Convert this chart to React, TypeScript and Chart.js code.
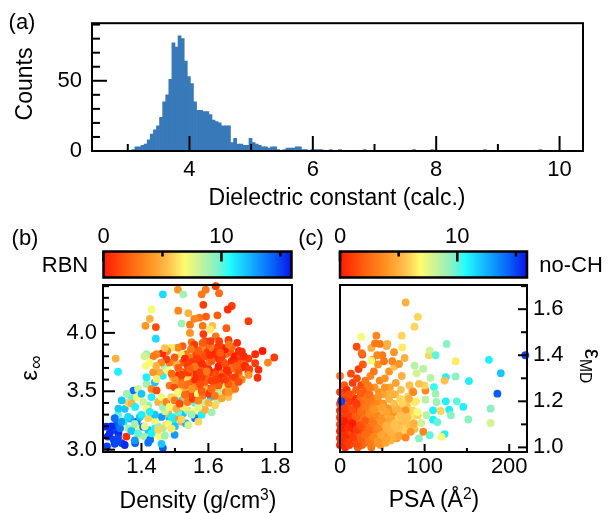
import React, { useEffect, useRef } from 'react';
import { Chart, registerables } from 'chart.js';
Chart.register(...registerables);

const W = 609;
const H = 513;
const FONT = '"Liberation Sans", Arial, Helvetica, sans-serif';
const BAR_COLOR = '#3879b9';

// ---------- (a) histogram ----------
const histBinStart = 3.065;
const histBinWidth = 0.05;
const histCounts = [
  1, 3, 3, 4, 5, 8, 12, 15, 18, 24, 35, 40, 51, 77, 74, 82, 80, 64, 53, 48,
  35, 29, 29, 28, 28, 26, 22, 21, 20, 18, 18, 18, 6, 9, 5, 5, 4, 4, 9, 6,
  5, 4, 3, 3, 2, 3, 3, 1, 0, 1, 2, 2, 2, 3, 3, 1, 1, 0, 1, 1,
  1, 1, 0, 0, 1,
];
const histTailCenters = [6.44, 6.84, 7.64, 7.94, 8.79, 9.69];
const histTailCounts = [1, 1, 1, 1, 1, 1];

// ---------- (b) density vs eps_inf, colour = RBN ----------
const panelB: [number, number, number][] = [
  // lower-left, mixed / blue
  [1.295, 3.197, 15.5], [1.299, 3.112, 15.5], [1.297, 3.027, 15], [1.317, 3.17, 15], [1.327, 3.225, 14.5],
  [1.331, 3.14, 15.5], [1.317, 3.085, 15], [1.341, 3.056, 15], [1.336, 3.183, 14], [1.347, 3.24, 11],
  [1.376, 3.506, 14], [1.366, 3.267, 12.5], [1.386, 3.24, 14], [1.395, 3.28, 12], [1.381, 3.056, 14.5],
  [1.361, 3.183, 9], [1.386, 3.183, 7], [1.405, 3.197, 14], [1.391, 3.12, 6.5], [1.41, 3.112, 9],
  [1.433, 3.127, 7], [1.42, 3.17, 12], [1.44, 3.183, 11], [1.426, 3.085, 14], [1.464, 3.014, 14.5],
  [1.45, 3.197, 9], [1.455, 3.112, 7], [1.464, 3.183, 9], [1.474, 3.211, 6], [1.499, 3.127, 13],
  [1.484, 3.267, 12], [1.48, 3.31, 5], [1.494, 3.24, 11], [1.509, 3.28, 4], [1.524, 3.31, 12],
  [1.519, 3.24, 5], [1.533, 3.225, 12.5], [1.538, 3.338, 9], [1.553, 3.324, 7], [1.568, 3.28, 6.5],
  [1.578, 3.35, 5.5], [1.587, 3.41, 8.5], [1.607, 3.45, 12], [1.627, 3.422, 8.5], [1.666, 3.507, 5],
  [1.66, 3.45, 5.5], [1.355, 3.112, 0.5],
  [1.46, 3.28, 13], [1.48, 3.22, 7], [1.50, 3.20, 12], [1.52, 3.26, 6], [1.54, 3.21, 8],
  [1.56, 3.27, 14], [1.57, 3.24, 6], [1.58, 3.30, 11], [1.59, 3.34, 5], [1.61, 3.32, 9],
  [1.62, 3.38, 6], [1.55, 3.30, 9], [1.53, 3.36, 6.5], [1.51, 3.32, 10], [1.49, 3.28, 11],
  [1.47, 3.33, 8], [1.44, 3.25, 7], [1.42, 3.27, 6], [1.40, 3.30, 11], [1.38, 3.22, 9],
  [1.36, 3.28, 11.5], [1.35, 3.35, 12], [1.34, 3.24, 13], [1.33, 3.30, 10], [1.32, 3.27, 14],
  [1.37, 3.16, 12], [1.39, 3.14, 10], [1.41, 3.20, 7.5], [1.43, 3.14, 11], [1.45, 3.17, 6],
  [1.47, 3.12, 9], [1.49, 3.18, 6.5], [1.46, 3.05, 12], [1.42, 3.06, 14], [1.38, 3.08, 13],
  [1.35, 3.04, 15.5], [1.33, 3.10, 15], [1.31, 3.20, 15.5], [1.305, 3.14, 15.5], [1.32, 3.05, 15],
  [1.37, 3.44, 10], [1.39, 3.52, 8], [1.36, 3.40, 6], [1.43, 3.45, 11], [1.42, 3.38, 9.5],
  [1.52, 3.42, 11.5], [1.50, 3.45, 8.5], [1.56, 3.40, 10], [1.44, 3.30, 12], [1.57, 3.36, 7.5],
  // middle-left
  [1.331, 3.352, 12], [1.341, 3.422, 12], [1.356, 3.478, 9], [1.371, 3.394, 5], [1.386, 3.45, 7],
  [1.381, 3.366, 11], [1.40, 3.478, 12], [1.405, 3.408, 8], [1.415, 3.352, 7], [1.425, 3.324, 11],
  [1.415, 3.563, 9], [1.43, 3.52, 3.5], [1.44, 3.577, 12], [1.445, 3.507, 1.5], [1.45, 3.408, 5],
  [1.46, 3.45, 7], [1.464, 3.366, 9], [1.474, 3.408, 3.5], [1.489, 3.45, 6], [1.484, 3.366, 7],
  [1.499, 3.422, 3], [1.504, 3.352, 5], [1.514, 3.394, 1.5], [1.528, 3.45, 5], [1.538, 3.408, 3],
  [1.553, 3.436, 1], [1.464, 3.633, 11], [1.469, 3.718, 9], [1.454, 3.662, 5], [1.479, 3.676, 7],
  [1.494, 3.619, 5], [1.435, 3.662, 4], [1.415, 3.62, 11], [1.445, 3.605, 6.5], [1.484, 3.549, 3],
  [1.499, 3.535, 1.5], [1.514, 3.577, 3.5], [1.524, 3.507, 5], [1.533, 3.549, 3], [1.548, 3.493, 0.5],
  [1.509, 3.493, 7],
  // main cluster
  [1.523, 3.746, 2], [1.538, 3.718, 1], [1.548, 3.789, 3], [1.563, 3.831, 1.5], [1.573, 3.76, 0.5],
  [1.583, 3.817, 2], [1.597, 3.859, 1], [1.612, 3.873, 3], [1.627, 3.845, 0.5], [1.642, 3.873, 1.5],
  [1.652, 3.817, 3], [1.666, 3.831, 2], [1.676, 3.774, 1], [1.691, 3.746, 0.5], [1.681, 3.69, 3],
  [1.661, 3.718, 0.5], [1.647, 3.746, 2], [1.632, 3.774, 1], [1.617, 3.789, 0.5], [1.602, 3.746, 3],
  [1.587, 3.704, 1], [1.573, 3.69, 2], [1.558, 3.662, 0.5], [1.543, 3.648, 3], [1.528, 3.662, 1.5],
  [1.514, 3.676, 3.5], [1.504, 3.732, 5], [1.509, 3.633, 0.5], [1.523, 3.591, 2], [1.538, 3.605, 6],
  [1.553, 3.577, 3], [1.568, 3.619, 0.5], [1.583, 3.605, 1], [1.597, 3.633, 2], [1.612, 3.662, 0.5],
  [1.627, 3.676, 1], [1.642, 3.662, 3], [1.657, 3.633, 5], [1.671, 3.605, 1], [1.691, 3.648, 3],
  [1.661, 3.577, 2], [1.647, 3.549, 6.5], [1.632, 3.577, 0.5], [1.617, 3.549, 3], [1.602, 3.521, 1],
  [1.587, 3.535, 5], [1.573, 3.521, 2], [1.558, 3.535, 3.5], [1.543, 3.478, 1.5], [1.568, 3.478, 7],
  [1.583, 3.464, 3], [1.602, 3.478, 1], [1.622, 3.507, 6], [1.637, 3.493, 8.5], [1.652, 3.493, 3],
  [1.676, 3.563, 3.5], [1.701, 3.704, 0.5], [1.632, 3.90, 1], [1.583, 3.887, 3.5], [1.553, 3.887, 1],
  [1.533, 3.817, 3], [1.518, 3.817, 6.5], [1.499, 3.789, 2], [1.484, 3.746, 3], [1.474, 3.774, 1],
  [1.459, 3.746, 3.5], [1.444, 3.718, 5], [1.661, 3.929, 11],
  [1.51, 3.70, 2], [1.52, 3.64, 1], [1.53, 3.78, 0.5], [1.54, 3.56, 2.5], [1.55, 3.75, 1],
  [1.56, 3.60, 0.5], [1.56, 3.71, 3], [1.57, 3.85, 2], [1.575, 3.66, 1], [1.58, 3.74, 0.5],
  [1.59, 3.58, 2], [1.59, 3.80, 1.5], [1.60, 3.69, 0.5], [1.60, 3.90, 2.5], [1.61, 3.59, 1],
  [1.61, 3.76, 2], [1.62, 3.82, 0.5], [1.62, 3.64, 1.5], [1.63, 3.71, 0], [1.63, 3.55, 2],
  [1.64, 3.80, 1], [1.64, 3.62, 0.5], [1.65, 3.73, 1.5], [1.65, 3.86, 0], [1.66, 3.66, 1],
  [1.66, 3.56, 2], [1.67, 3.76, 0.5], [1.67, 3.70, 2.5], [1.68, 3.62, 1], [1.68, 3.80, 0],
  [1.69, 3.68, 1.5], [1.70, 3.76, 2], [1.70, 3.60, 3.5], [1.71, 3.72, 0.5], [1.72, 3.78, 1],
  [1.66, 3.49, 4], [1.62, 3.46, 3], [1.58, 3.50, 2], [1.55, 3.52, 4], [1.53, 3.47, 2.5],
  [1.57, 3.42, 3.5], [1.60, 3.40, 5], [1.64, 3.44, 4.5], [1.68, 3.52, 3], [1.50, 3.60, 4],
  [1.49, 3.65, 2.5], [1.52, 3.56, 3], [1.54, 3.66, 1], [1.58, 3.62, 1], [1.61, 3.52, 2.5],
  [1.65, 3.60, 1], [1.69, 3.58, 1.5], [1.63, 3.88, 1], [1.59, 3.93, 1.5], [1.55, 3.92, 3],
  [1.67, 3.88, 2.5], [1.72, 3.66, 0.5], [1.74, 3.74, 1], [1.70, 3.84, 0.5], [1.66, 3.94, 1],
  [1.565, 3.78, 1], [1.595, 3.67, 3], [1.625, 3.60, 1], [1.655, 3.68, 0.5], [1.685, 3.72, 2],
  [1.605, 3.81, 0.5], [1.545, 3.69, 2], [1.575, 3.56, 1.5], [1.635, 3.83, 2], [1.695, 3.80, 1],
  // upper and right
  [1.622, 3.97, 3], [1.632, 3.93, 1], [1.661, 3.90, 3], [1.686, 3.915, 0.5], [1.607, 3.93, 1],
  [1.583, 3.915, 2], [1.558, 3.90, 1], [1.548, 3.86, 3], [1.523, 3.887, 2], [1.509, 3.873, 3.5],
  [1.489, 3.873, 6.5], [1.477, 3.845, 3.5], [1.462, 3.825, 0.5], [1.445, 3.817, 3.5], [1.435, 3.80, 3],
  [1.415, 3.817, 9], [1.409, 3.80, 8], [1.425, 3.746, 7], [1.323, 3.78, 5], [1.33, 3.667, 11],
  [1.413, 3.718, 7], [1.691, 3.845, 0.5], [1.706, 3.80, 0.5], [1.74, 3.817, 0.5], [1.762, 3.845, 0],
  [1.797, 3.789, 1], [1.778, 3.746, 3.5], [1.722, 3.69, 1], [1.75, 3.684, 0.5], [1.72, 3.64, 4],
  [1.464, 4.33, 11.5], [1.509, 4.37, 4], [1.525, 4.33, 9], [1.592, 4.37, 3], [1.622, 4.40, 1],
  [1.632, 4.34, 2.5], [1.58, 4.33, 3], [1.585, 4.24, 1], [1.67, 4.23, 1], [1.658, 4.20, 0.5],
  [1.43, 4.20, 7], [1.51, 4.19, 3.5], [1.54, 4.17, 5], [1.573, 4.13, 3], [1.593, 4.14, 2],
  [1.627, 4.15, 2], [1.425, 4.12, 5], [1.412, 4.06, 4], [1.443, 4.05, 1.5], [1.52, 4.08, 9],
  [1.545, 4.07, 3], [1.558, 4.12, 3.5], [1.583, 4.06, 3], [1.612, 4.06, 5.5], [1.654, 4.04, 2],
  [1.72, 4.10, 1], [1.545, 4.00, 4], [1.585, 3.99, 1], [1.605, 4.03, 6.5], [1.443, 3.95, 11.5],
  [1.47, 3.87, 5.5], [1.747, 3.616, 0.5],
];

// ---------- (c) PSA vs eps_MD, colour = no-CH ----------
const panelC: [number, number, number][] = [
  // dense region
  [0, 1.01, 0], [0, 1.04, 0.5], [0, 1.07, 0], [0, 1.10, 1], [0, 1.13, 0.5], [0, 1.16, 0], [0, 1.24, 1], [0, 1.31, 3], [0, 1.19, 1.5],
  [3, 1.02, 0], [3, 1.05, 1], [3, 1.08, 0], [3, 1.11, 0.5], [3, 1.14, 1], [4, 1.22, 1.5], [5, 1.27, 2],
  [6, 1.0, 0.5], [7, 1.03, 0], [7, 1.06, 1], [7, 1.09, 0], [8, 1.12, 1], [8, 1.15, 0], [9, 1.18, 1.5], [9, 1.21, 1], [8, 1.25, 0.5],
  [11, 1.01, 1], [11, 1.04, 0], [12, 1.07, 1.5], [12, 1.10, 0.5], [13, 1.13, 1], [13, 1.16, 2], [14, 1.2, 1], [14, 1.23, 2], [15, 1.28, 1], [13, 1.32, 1.5],
  [16, 1.02, 1.5], [16, 1.05, 1], [17, 1.08, 0], [17, 1.11, 1.5], [18, 1.14, 2], [18, 1.17, 1], [19, 1.25, 2], [20, 1.3, 1.5], [19, 1.21, 0.5],
  [21, 1.0, 2], [21, 1.03, 1], [22, 1.06, 2], [22, 1.09, 1.5], [23, 1.12, 2.5], [23, 1.15, 1], [24, 1.18, 2], [24, 1.21, 2.5], [25, 1.27, 1.5], [22, 1.34, 1],
  [26, 1.01, 2], [26, 1.04, 2.5], [27, 1.07, 1.5], [27, 1.1, 2.5], [28, 1.13, 3], [28, 1.16, 2], [29, 1.19, 2.5], [29, 1.22, 3], [30, 1.25, 2], [30, 1.29, 3], [27, 1.36, 2],
  [31, 1.02, 2.5], [32, 1.05, 3], [32, 1.08, 2], [33, 1.11, 3], [33, 1.14, 2.5], [34, 1.17, 3.5], [34, 1.2, 3], [35, 1.23, 2.5], [36, 1.31, 3.5], [33, 1.27, 3],
  [37, 1.0, 3], [37, 1.03, 3.5], [38, 1.06, 2.5], [38, 1.09, 3.5], [39, 1.12, 3], [39, 1.15, 4], [40, 1.18, 3.5], [40, 1.21, 3], [41, 1.26, 4], [40, 1.33, 3], [38, 1.38, 3.5],
  [42, 1.02, 3.5], [43, 1.05, 4], [43, 1.08, 3], [44, 1.11, 4], [44, 1.14, 3.5], [45, 1.17, 4.5], [45, 1.20, 3.5], [46, 1.24, 4], [47, 1.29, 3.5], [45, 1.36, 4],
  [48, 1.01, 4], [48, 1.04, 4.5], [49, 1.07, 3.5], [49, 1.1, 4.5], [50, 1.13, 4], [51, 1.16, 5], [51, 1.19, 4], [52, 1.23, 4.5], [53, 1.3, 4], [50, 1.4, 3],
  [54, 1.02, 4.5], [55, 1.05, 4], [55, 1.08, 5], [56, 1.11, 4.5], [57, 1.14, 5], [57, 1.17, 4], [58, 1.21, 5], [59, 1.26, 4.5], [58, 1.33, 4], [55, 1.44, 5],
  [60, 1.03, 5], [61, 1.06, 4.5], [62, 1.09, 5.5], [62, 1.12, 5], [63, 1.15, 4], [64, 1.19, 5.5], [65, 1.23, 5], [66, 1.28, 4.5], [64, 1.35, 5.5],
  [67, 1.04, 4], [68, 1.07, 5.5], [69, 1.1, 5], [70, 1.13, 6], [71, 1.17, 5], [71, 1.21, 6], [72, 1.25, 5.5], [73, 1.31, 5],
  [75, 1.05, 5], [76, 1.08, 6], [77, 1.11, 5.5], [78, 1.14, 6.5], [79, 1.18, 5.5], [80, 1.22, 6], [82, 1.27, 5.5],
  [84, 1.09, 6], [85, 1.13, 6.5], [86, 1.16, 6], [88, 1.08, 5.5], [90, 1.2, 6.5], [92, 1.14, 6],
  [1.5, 1.025, 0.5], [1.5, 1.085, 0], [1.5, 1.145, 1], [1.5, 1.205, 1], [5, 1.055, 0.5], [5, 1.115, 0], [5, 1.175, 1],
  [9.5, 1.025, 1], [9.5, 1.085, 0.5], [9.5, 1.145, 1], [10, 1.23, 1.5], [14.5, 1.045, 1], [14.5, 1.105, 0], [14.5, 1.165, 1.5],
  [19.5, 1.015, 1.5], [19.5, 1.075, 1], [19.5, 1.135, 2], [19.5, 1.19, 1], [24.5, 1.035, 2], [24.5, 1.095, 1.5], [24.5, 1.155, 2.5],
  [24.5, 1.235, 2], [29.5, 1.055, 2.5], [29.5, 1.115, 2], [29.5, 1.175, 3], [34.5, 1.025, 3], [34.5, 1.085, 2.5], [34.5, 1.145, 3.5],
  [35, 1.26, 3], [39.5, 1.045, 3.5], [39.5, 1.105, 3], [40, 1.165, 4], [44.5, 1.025, 4], [44.5, 1.085, 3.5], [45, 1.22, 4],
  [49.5, 1.055, 4.5], [49.5, 1.115, 4], [50, 1.175, 4.5], [53, 1.26, 4], [54.5, 1.035, 4.5], [55, 1.095, 5], [55, 1.155, 4.5],
  [59.5, 1.065, 5], [60, 1.125, 4.5], [60, 1.235, 5], [64.5, 1.045, 5], [65, 1.105, 5.5], [66, 1.165, 5], [70, 1.085, 5.5],
  [70, 1.05, 4.5], [73, 1.13, 5.5], [74, 1.19, 6], [78, 1.07, 6], [81, 1.1, 5.5], [82, 1.16, 6],
  // sparse points
  [77.6, 1.629, 5], [92, 1.567, 6], [88, 1.524, 6], [25.2, 1.48, 7], [43, 1.485, 3.5], [19.7, 1.437, 1.5],
  [37, 1.432, 5], [47.2, 1.449, 3], [56, 1.449, 5], [73, 1.485, 6], [73.6, 1.434, 6.5], [63.8, 1.413, 4],
  [26.4, 1.403, 1.5], [37, 1.377, 7], [44, 1.40, 3.5], [52, 1.374, 3], [61.8, 1.374, 3.5], [69.7, 1.362, 4],
  [76.4, 1.388, 5], [105, 1.40, 6], [106, 1.42, 8], [113, 1.40, 10], [126, 1.449, 9.5], [136.6, 1.374, 6.5],
  [88, 1.355, 8.5], [98.4, 1.341, 8.5], [90.5, 1.322, 8], [107, 1.302, 8.5], [125, 1.305, 11], [136.6, 1.308, 9.5],
  [123.6, 1.29, 5.5], [152.4, 1.288, 11], [176, 1.38, 11], [190, 1.322, 12], [186, 1.233, 14.5], [219, 1.40, 15],
  [178, 1.168, 9.5], [178, 1.106, 8], [151.6, 1.121, 9.5], [145.7, 1.176, 11], [138, 1.20, 10], [125, 1.20, 11],
  [129, 1.164, 11], [131, 1.14, 9.5], [114, 1.197, 9], [111, 1.262, 10.5], [113, 1.233, 9], [101, 1.247, 3.5],
  [101, 1.207, 8.5], [110, 1.161, 11], [119, 1.158, 6], [110, 1.12, 11], [115, 1.11, 10], [123.6, 1.058, 11],
  [120, 1.046, 7], [93.3, 1.039, 9.5], [106, 1.053, 10], [102, 1.14, 8.5], [96, 1.106, 8], [91.3, 1.154, 7],
  [100, 1.269, 6], [93.3, 1.276, 5.5], [85.4, 1.245, 5], [87.4, 1.197, 6.5], [81.5, 1.211, 5], [86.6, 1.24, 3.5],
  [77.6, 1.161, 4], [79.5, 1.132, 5.5], [87.4, 1.104, 5], [77.6, 1.043, 3.5], [83.5, 1.068, 4], [98.4, 1.068, 3.5],
  [71.7, 1.14, 5.5], [25.6, 1.409, 2.5], [41.4, 1.452, 3], [1.6, 1.20, 15],
];

// ---------- colour bar ----------
const colorbarMax = 15.94;
const cmapStops: [number, string][] = [
  [0.0, '#ff1a00'],
  [0.12, '#ff5a0e'],
  [0.25, '#ff9422'],
  [0.35, '#ffc24f'],
  [0.43, '#fffb6e'],
  [0.52, '#c4f29c'],
  [0.6, '#86f1c4'],
  [0.67, '#22fdfd'],
  [0.8, '#10a6ff'],
  [0.9, '#0863f8'],
  [1.0, '#0a14ec'],
];

function hexToRgb(h: string) {
  const n = parseInt(h.slice(1), 16);
  return [(n >> 16) & 255, (n >> 8) & 255, n & 255];
}
function cmap(v: number) {
  const t = Math.max(0, Math.min(1, v / colorbarMax));
  for (let i = 1; i < cmapStops.length; i++) {
    const [t1, c1] = cmapStops[i];
    if (t <= t1) {
      const [t0, c0] = cmapStops[i - 1];
      const f = (t - t0) / (t1 - t0);
      const a = hexToRgb(c0);
      const b = hexToRgb(c1);
      const r = a.map((x, k) => Math.round(x + (b[k] - x) * f));
      return `rgb(${r[0]},${r[1]},${r[2]})`;
    }
  }
  return cmapStops[cmapStops.length - 1][1];
}

type Side = 'left' | 'right' | 'top' | 'bottom';
type AxisTick = { id: string; side: Side; major: number; minor: number };

function framePlugin(axes: AxisTick[], lw = 2) {
  return {
    id: 'frame',
    afterDraw(chart: any) {
      const { ctx, chartArea: a } = chart;
      ctx.save();
      ctx.strokeStyle = '#000';
      ctx.lineWidth = lw;
      for (const ax of axes) {
        const s = chart.scales[ax.id];
        for (const t of s.ticks) {
          const p = s.getPixelForValue(t.value);
          const len = t.label ? ax.major : ax.minor;
          ctx.beginPath();
          if (ax.side === 'left') { ctx.moveTo(a.left, p); ctx.lineTo(a.left + len, p); }
          else if (ax.side === 'right') { ctx.moveTo(a.right, p); ctx.lineTo(a.right - len, p); }
          else if (ax.side === 'bottom') { ctx.moveTo(p, a.bottom); ctx.lineTo(p, a.bottom - len); }
          else { ctx.moveTo(p, a.top); ctx.lineTo(p, a.top + len); }
          ctx.stroke();
        }
      }
      ctx.strokeRect(a.left, a.top, a.right - a.left, a.bottom - a.top);
      ctx.restore();
    },
  };
}

const gradientPlugin = {
  id: 'gradientFill',
  beforeDatasetsDraw(chart: any) {
    const { ctx, chartArea: a } = chart;
    const g = ctx.createLinearGradient(a.left, 0, a.right, 0);
    for (const [t, c] of cmapStops) g.addColorStop(t, c);
    ctx.save();
    ctx.fillStyle = g;
    ctx.fillRect(a.left, a.top, a.right - a.left, a.bottom - a.top);
    ctx.restore();
  },
};

const LABEL_SPACE = 40;

function axis(pos: Side, min: number, max: number, step: number, fmt: (v: number) => string, pad: number, extra: any = {}) {
  return {
    type: 'linear',
    position: pos,
    min,
    max,
    grid: { display: false, drawTicks: false },
    border: { display: false },
    ticks: {
      stepSize: step,
      autoSkip: false,
      maxRotation: 0,
      minRotation: 0,
      includeBounds: false,
      padding: pad,
      color: '#000',
      font: { family: FONT, size: 22 },
      callback: (v: any) => fmt(Number(v)),
    },
    afterFit: (s: any) => {
      if (pos === 'left' || pos === 'right') s.width = LABEL_SPACE;
      else s.height = LABEL_SPACE;
    },
    ...extra,
  };
}

// chart area given in page pixels; sides listed in `axes` reserve LABEL_SPACE for tick labels
function area(left: number, top: number, right: number, bottom: number, axes: Side[]) {
  const r = (s: Side) => (axes.includes(s) ? LABEL_SPACE : 0);
  return {
    padding: {
      left: left - r('left'),
      top: top - r('top'),
      right: W - right - r('right'),
      bottom: H - bottom - r('bottom'),
    },
  };
}

const isMult = (v: number, m: number) => Math.abs(v / m - Math.round(v / m)) < 1e-6;

const baseOpts = {
  responsive: false,
  animation: false as const,
  events: [] as any[],
};
const noPlugins = { legend: { display: false }, tooltip: { enabled: false } };

function Label({ x, y, rot = 0, size = 22, children }: { x: number; y: number; rot?: number; size?: number; children: React.ReactNode }) {
  return (
    <div
      style={{
        position: 'absolute',
        left: x,
        top: y,
        transform: `translate(-50%, -50%) rotate(${rot}deg)`,
        fontFamily: FONT,
        fontSize: size,
        lineHeight: 1,
        whiteSpace: 'nowrap',
        color: '#000',
      }}
    >
      {children}
    </div>
  );
}

const sub = { fontSize: '0.68em', position: 'relative' as const, top: '0.32em' };
const subInf = { fontSize: '0.8em', position: 'relative' as const, top: '0.25em', marginLeft: '0.05em' };
const sup = { fontSize: '0.68em', position: 'relative' as const, top: '-0.5em' };

export default function App() {
  const refs = [useRef<HTMLCanvasElement>(null), useRef<HTMLCanvasElement>(null), useRef<HTMLCanvasElement>(null), useRef<HTMLCanvasElement>(null), useRef<HTMLCanvasElement>(null)];

  useEffect(() => {
    const charts: Chart[] = [];
    const histData = histCounts.map((c, i) => ({ x: histBinStart + (i + 0.5) * histBinWidth, y: c }));
    histTailCenters.forEach((x, i) => histData.push({ x, y: histTailCounts[i] }));

    // (a) histogram
    charts.push(new Chart(refs[0].current!, {
      type: 'bar',
      data: { datasets: [{ data: histData as any, backgroundColor: BAR_COLOR, borderWidth: 0, barPercentage: 1, categoryPercentage: 1 }] },
      options: {
        ...baseOpts,
        layout: area(92, 19, 583, 151, ['left', 'bottom']),
        plugins: noPlugins,
        scales: {
          x: axis('bottom', 2.42, 10.38, 1, (v) => (isMult(v, 2) ? String(Math.round(v)) : ''), 6, { offset: false }) as any,
          y: axis('left', 0, 91, 10, (v) => (isMult(v, 50) ? String(Math.round(v)) : ''), 10) as any,
        },
      },
      plugins: [framePlugin([
        { id: 'x', side: 'bottom', major: 15, minor: 7 },
        { id: 'y', side: 'left', major: 15, minor: 8 },
      ])],
    } as any));

    // (b) scatter
    charts.push(new Chart(refs[1].current!, {
      type: 'scatter',
      data: {
        datasets: [{
          data: panelB.map((p) => ({ x: p[0], y: p[1] })),
          pointBackgroundColor: panelB.map((p) => cmap(p[2])),
          pointBorderWidth: 0,
          pointRadius: 3.9,
          clip: false,
        }],
      },
      options: {
        ...baseOpts,
        layout: area(103, 285, 292, 452, ['left', 'bottom']),
        plugins: noPlugins,
        scales: {
          x: axis('bottom', 1.285, 1.85, 0.1, (v) => (isMult(v, 0.2) ? v.toFixed(1) : ''), 2) as any,
          y: axis('left', 2.98, 4.41, 0.1, (v) => (isMult(v, 0.5) ? v.toFixed(1) : ''), 6) as any,
        },
      },
      plugins: [framePlugin([
        { id: 'x', side: 'bottom', major: 9, minor: 4 },
        { id: 'y', side: 'left', major: 12, minor: 6 },
      ])],
    } as any));

    // (c) scatter
    charts.push(new Chart(refs[2].current!, {
      type: 'scatter',
      data: {
        datasets: [{
          data: panelC.map((p) => ({ x: p[0], y: p[1] })),
          pointBackgroundColor: panelC.map((p) => cmap(p[2])),
          pointBorderWidth: 0,
          pointRadius: 3.9,
          clip: false,
        }],
      },
      options: {
        ...baseOpts,
        layout: area(340, 285, 527, 452, ['right', 'bottom']),
        plugins: noPlugins,
        scales: {
          x: axis('bottom', 0, 221, 50, (v) => (isMult(v, 100) ? String(Math.round(v)) : ''), 2) as any,
          y: axis('right', 0.98, 1.705, 0.1, (v) => (isMult(v, 0.2) ? v.toFixed(1) : ''), 6) as any,
        },
      },
      plugins: [framePlugin([
        { id: 'x', side: 'bottom', major: 8, minor: 4 },
        { id: 'y', side: 'right', major: 9, minor: 6 },
      ])],
    } as any));

    // colour bars
    const cbArea = [
      [103.5, 251.5, 291.5, 277.5],
      [340, 251.5, 527, 277.5],
    ];
    cbArea.forEach((r, k) => {
      charts.push(new Chart(refs[3 + k].current!, {
        type: 'scatter',
        data: { datasets: [{ data: [] }] },
        options: {
          ...baseOpts,
          layout: area(r[0], r[1], r[2], r[3], ['top']),
          plugins: noPlugins,
          scales: {
            x: axis('top', 0, colorbarMax, 5, (v) => (isMult(v, 10) ? String(Math.round(v)) : ''), 1.3) as any,
            y: { display: false, min: 0, max: 1 },
          },
        },
        plugins: [gradientPlugin, framePlugin([{ id: 'x', side: 'top', major: 10, minor: 5 }], 2.5)],
      } as any));
    });

    return () => charts.forEach((c) => c.destroy());
  }, []);

  return (
    <div style={{ position: 'absolute', left: 0, top: 0, width: W, height: H, background: '#fff', overflow: 'hidden' }}>
      {refs.map((r, i) => (
        <canvas key={i} ref={r} width={W} height={H} style={{ position: 'absolute', left: 0, top: 0, width: W, height: H }} />
      ))}
      <Label x={22} y={22}>(a)</Label>
      <Label x={24} y={84} rot={-90} size={23}>Counts</Label>
      <Label x={337} y={197} size={23}>Dielectric constant (calc.)</Label>
      <Label x={25} y={238}>(b)</Label>
      <Label x={311} y={238}>(c)</Label>
      <Label x={65} y={265}>RBN</Label>
      <Label x={571} y={265}>no-CH</Label>
      <Label x={29} y={368} rot={-90} size={24}>ε<span style={subInf}>∞</span></Label>
      <Label x={592} y={366} rot={90} size={23}>ε<span style={sub}>MD</span></Label>
      <Label x={198} y={500} size={23}>Density (g/cm<span style={sup}>3</span>)</Label>
      <Label x={434} y={499} size={23}>PSA (Å<span style={sup}>2</span>)</Label>
    </div>
  );
}
